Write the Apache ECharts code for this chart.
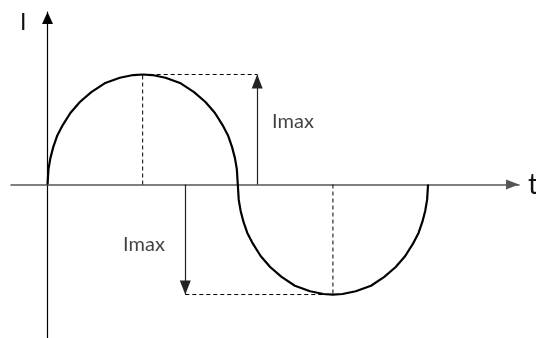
<!DOCTYPE html>
<html>
<head>
<meta charset="utf-8">
<script src="https://cdn.jsdelivr.net/npm/echarts@6/dist/echarts.min.js"></script>
<style>
  html, body { margin: 0; padding: 0; background: #fff; }
  #chart { width: 536px; height: 338px; }
</style>
</head>
<body>
<div id="chart"></div>
<script>
// sine-like current curve, t in half-periods, I in units of Imax
const positiveHalf = [
    [0, 0], [0.005, 0.14], [0.015, 0.24], [0.03, 0.34], [0.05, 0.44],
    [0.08, 0.54], [0.12, 0.65], [0.17, 0.75], [0.23, 0.84], [0.3, 0.92],
    [0.38, 0.97], [0.45, 0.995], [0.5, 1], [0.55, 0.995], [0.62, 0.97],
    [0.7, 0.92], [0.77, 0.84], [0.83, 0.75], [0.88, 0.65], [0.92, 0.54],
    [0.95, 0.44], [0.97, 0.34], [0.985, 0.24], [0.995, 0.14], [1, 0]
];
const negativeHalf = [
    [1, 0], [1.005, -0.14], [1.015, -0.24], [1.03, -0.34], [1.05, -0.44],
    [1.08, -0.54], [1.12, -0.65], [1.17, -0.75], [1.23, -0.84], [1.3, -0.92],
    [1.38, -0.97], [1.45, -0.995], [1.5, -1], [1.55, -0.995], [1.62, -0.97],
    [1.7, -0.92], [1.77, -0.84], [1.83, -0.75], [1.88, -0.65], [1.92, -0.54],
    [1.95, -0.44], [1.97, -0.34], [1.985, -0.24], [1.995, -0.14], [2, 0]
];

// dashed helper lines (pairs of points)
const dashedLines = [
    [[0.5, 0], [0.5, 1]],
    [[0.5, 1], [1.102, 1]],
    [[1.5, 0], [1.5, -1]],
    [[0.724, -1], [1.5, -1]]
];

// Imax arrows: from axis to peak level
const arrowLines = [
    [[1.102, 0], [1.102, 1]],
    [[0.724, 0], [0.724, -1]]
];

// Imax labels
const labelTexts = ['Imax', 'Imax'];
const labelPoints = [[1.18, 0.57], [0.397, -0.55]];

const axisNames = { x: 't', y: 'I' };

const chartDom = document.getElementById('chart');
const myChart = echarts.init(chartDom, null, { renderer: 'canvas' });

const labelFont = "Lato, 'DejaVu Sans Condensed', sans-serif";

const series = [];

series.push({
    type: 'line',
    name: 'curve',
    data: positiveHalf.concat(negativeHalf.slice(1)),
    symbol: 'none',
    smooth: false,
    lineStyle: { color: '#000', width: 2.2 },
    z: 5,
    silent: true
});

dashedLines.forEach(function (seg) {
    series.push({
        type: 'line',
        data: seg,
        symbol: 'none',
        lineStyle: { color: '#000', width: 1, type: [4, 3] },
        silent: true,
        z: 3
    });
});

series.push({
    type: 'scatter',
    data: [],
    silent: true,
    markLine: {
        silent: true,
        symbol: ['none', 'triangle'],
        symbolSize: [11, 14],
        symbolOffset: [[0, 0], [0, 7]],
        label: { show: false },
        lineStyle: { color: '#222', width: 1.2, type: 'solid' },
        data: arrowLines.map(function (seg) {
            return [{ coord: seg[0] }, { coord: seg[1] }];
        })
    }
});

series.push({
    type: 'scatter',
    symbolSize: 0,
    silent: true,
    data: labelPoints.map(function (p, i) {
        return { value: p, name: labelTexts[i] };
    }),
    label: {
        show: true,
        position: 'right',
        distance: 0,
        formatter: '{b}',
        fontFamily: labelFont,
        fontSize: 20,
        color: '#111'
    }
});

const option = {
    animation: false,
    backgroundColor: '#fff',
    grid: { left: 11, right: 17, top: 12, bottom: 0, outerBoundsMode: 'none' },
    xAxis: {
        type: 'value',
        min: -0.192,
        max: 2.478,
        name: axisNames.x,
        nameLocation: 'end',
        nameGap: 9,
        nameTextStyle: { fontFamily: labelFont, fontSize: 28, color: '#111', verticalAlign: 'middle' },
        axisLine: {
            onZero: true,
            symbol: ['none', 'triangle'],
            symbolSize: [10, 13],
            symbolOffset: [0, -6.5],
            lineStyle: { color: '#555', width: 1.5 }
        },
        axisTick: { show: false },
        axisLabel: { show: false },
        splitLine: { show: false }
    },
    yAxis: {
        type: 'value',
        min: -1.395,
        max: 1.568,
        name: axisNames.y,
        nameLocation: 'end',
        nameGap: -11,
        nameTextStyle: {
            fontFamily: labelFont, fontSize: 23, color: '#111',
            align: 'right', verticalAlign: 'middle', padding: [0, 21, 0, 0]
        },
        axisLine: {
            onZero: true,
            symbol: ['none', 'triangle'],
            symbolSize: [11, 12],
            symbolOffset: [0, -6],
            lineStyle: { color: '#000', width: 1.2 }
        },
        axisTick: { show: false },
        axisLabel: { show: false },
        splitLine: { show: false }
    },
    series: series
};

myChart.setOption(option);
</script>
</body>
</html>
